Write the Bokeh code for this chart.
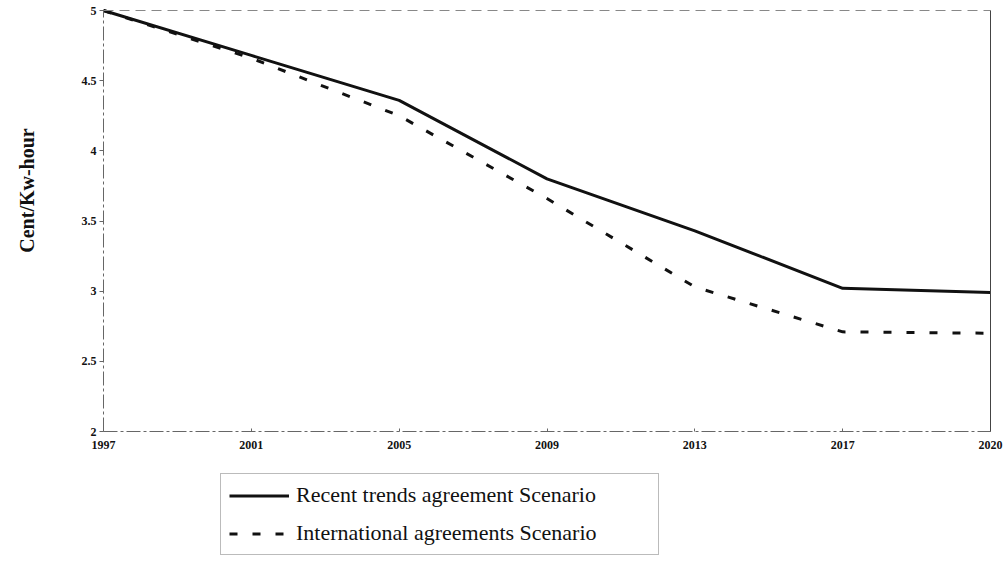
import math
from bokeh.plotting import figure
from bokeh.models import (Range1d, FixedTicker, Legend, LegendItem, Label,
                          LinearAxis, CustomJSTickFormatter)
from bokeh.embed import file_html
from bokeh.resources import INLINE

# Electricity cost projections (cent per kWh)
years = ["1997", "2001", "2005", "2009", "2013", "2017", "2020"]
recent_trends = [5.0, 4.68, 4.36, 3.80, 3.43, 3.02, 2.99]
international = [5.0, 4.66, 4.25, 3.66, 3.03, 2.71, 2.70]
y_ticks = [2, 2.5, 3, 3.5, 4, 4.5, 5]

xs = list(range(len(years)))
X_MIN, X_MAX = 0, len(years) - 1
Y_MIN, Y_MAX = 2, 5

SERIF = "Liberation Serif"

# The frame fills the whole canvas; axes are pinned at fixed data
# locations so the legend and the axis title can live outside the
# 2..5 value box without being clipped.
W, H = 1008, 561
LEFT, RIGHT = 103, 990      # pixel span of the year axis
TOP, BOTTOM = 10, 431       # pixel span of the value axis
x_unit = (RIGHT - LEFT) / (X_MAX - X_MIN)
y_unit = (BOTTOM - TOP) / (Y_MAX - Y_MIN)
x_range = Range1d(X_MIN - LEFT / x_unit, X_MAX + (W - RIGHT) / x_unit)
y_range = Range1d(Y_MIN - (H - BOTTOM) / y_unit, Y_MAX + TOP / y_unit)

p = figure(width=W, height=H, output_backend="svg", toolbar_location=None,
           x_range=x_range, y_range=y_range, min_border=0)
p.background_fill_color = "white"
p.border_fill_color = "white"
p.outline_line_color = None
p.grid.visible = False

r1 = p.line(xs, recent_trends, line_color="#111111", line_width=3)
r2 = p.line(xs, international, line_color="#111111", line_width=3,
            line_dash="8 15")

AXIS_GREY = "#666666"

# x axis: one tick per projection year, drawn along y = 2
xaxis = p.xaxis[0]
xaxis.fixed_location = Y_MIN
xaxis.bounds = (X_MIN, X_MAX)
xaxis.ticker = FixedTicker(ticks=xs)
xaxis.major_label_overrides = {i: y for i, y in enumerate(years)}
xaxis.major_label_text_font = SERIF
xaxis.major_label_text_font_style = "bold"
xaxis.major_label_text_font_size = "12px"
xaxis.major_label_text_color = "#111111"
xaxis.major_label_standoff = 9
xaxis.major_tick_in = 3
xaxis.major_tick_out = 0
xaxis.minor_tick_line_color = None
xaxis.axis_line_color = AXIS_GREY
xaxis.axis_line_dash = "14 3 3 3"
xaxis.major_tick_line_color = AXIS_GREY

# y axis, drawn along the first year
yaxis = p.yaxis[0]
yaxis.fixed_location = X_MIN
yaxis.bounds = (Y_MIN, Y_MAX)
yaxis.ticker = FixedTicker(ticks=y_ticks)
yaxis.formatter = CustomJSTickFormatter(
    code="return (tick % 1 === 0) ? tick.toFixed(0) : tick.toFixed(1);")
yaxis.major_label_text_font = SERIF
yaxis.major_label_text_font_style = "bold"
yaxis.major_label_text_font_size = "12px"
yaxis.major_label_text_color = "#111111"
yaxis.major_label_standoff = 3
yaxis.major_tick_in = 0
yaxis.major_tick_out = 4
yaxis.minor_tick_line_color = None
yaxis.axis_line_color = AXIS_GREY
yaxis.axis_line_dash = "14 3 3 3"
yaxis.major_tick_line_color = AXIS_GREY

# box edges: faint dashed top, solid right
top_edge = LinearAxis(fixed_location=Y_MAX, bounds=(X_MIN, X_MAX),
                      ticker=FixedTicker(ticks=[]),
                      axis_line_color="#888888", axis_line_width=1,
                      axis_line_dash="10 6",
                      major_tick_line_color=None, minor_tick_line_color=None,
                      major_label_text_font_size="0px")
p.add_layout(top_edge, "above")
right_edge = LinearAxis(fixed_location=X_MAX, bounds=(Y_MIN, Y_MAX),
                        ticker=FixedTicker(ticks=[]),
                        axis_line_color="#444444", axis_line_width=1,
                        major_tick_line_color=None, minor_tick_line_color=None,
                        major_label_text_font_size="0px")
p.add_layout(right_edge, "right")

# rotated value-axis title
p.add_layout(Label(x=X_MIN - (LEFT - 26) / x_unit,
                   y=Y_MAX - (190 - TOP) / y_unit,
                   text="Cent/Kw-hour", angle=math.pi / 2,
                   text_font=SERIF, text_font_style="bold",
                   text_font_size="20px", text_color="#111111",
                   text_align="center", text_baseline="middle"))

legend = Legend(items=[
    LegendItem(label="Recent trends agreement Scenario", renderers=[r1]),
    LegendItem(label="International agreements Scenario", renderers=[r2]),
], location=(220, 6), orientation="vertical")
legend.label_text_font = SERIF
legend.label_text_font_size = "22px"
legend.label_text_color = "#111111"
legend.glyph_width = 60
legend.glyph_height = 25
legend.label_height = 25
legend.label_width = 354
legend.label_standoff = 7
legend.spacing = 12
legend.padding = 8
legend.margin = 0
legend.border_line_color = "#777777"
legend.border_line_width = 1
legend.background_fill_alpha = 0
p.add_layout(legend, "center")

open("out.html", "w").write(file_html(p, INLINE))
